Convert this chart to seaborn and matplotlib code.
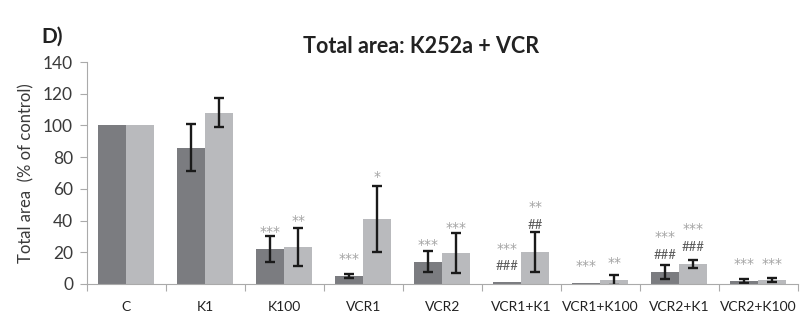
import matplotlib
matplotlib.use("Agg")
import matplotlib.pyplot as plt
import seaborn as sns
import pandas as pd
import numpy as np

categories = ["C", "K1", "K100", "VCR1", "VCR2", "VCR1+K1", "VCR1+K100", "VCR2+K1", "VCR2+K100"]
series_names = ["A", "B"]
dark_values = [100, 86, 22, 5, 14, 1, 0.5, 7.5, 2]
dark_err = [0, 15, 8, 1.5, 6.5, 0, 0, 4.5, 1.2]
light_values = [100, 108, 23, 41, 19.5, 20, 2.5, 12.5, 2.5]
light_err = [0, 9, 12, 21, 12.5, 12.5, 3, 2.5, 1.3]

# annotations: (category index, series index, text, y value, kind)
annotations = [
    (2, 0, "***", 34.5, "star"), (2, 1, "**", 41, "star"),
    (3, 0, "***", 17, "star"), (3, 1, "*", 69, "star"),
    (4, 0, "***", 26, "star"), (4, 1, "***", 37, "star"),
    (5, 0, "###", 11, "hash"), (5, 0, "***", 23.5, "star"),
    (5, 1, "##", 37, "hash"), (5, 1, "**", 50, "star"),
    (6, 0, "***", 12.5, "star"), (6, 1, "**", 14.5, "star"),
    (7, 0, "###", 18, "hash"), (7, 0, "***", 31, "star"),
    (7, 1, "###", 23, "hash"), (7, 1, "***", 36, "star"),
    (8, 0, "***", 14, "star"), (8, 1, "***", 14, "star"),
]

df = pd.DataFrame({
    "cat": categories * 2,
    "series": [series_names[0]] * len(categories) + [series_names[1]] * len(categories),
    "val": dark_values + light_values,
    "err": dark_err + light_err,
})

sns.set_style("white")
plt.rcParams["font.family"] = ["Lato", "DejaVu Sans"]

fig = plt.figure(figsize=(8.05, 3.23), dpi=100)
ax = fig.add_axes([0.108, 0.121, 0.883, 0.687])

palette = {"A": "#7b7c80", "B": "#b9babd"}
sns.barplot(data=df, x="cat", y="val", hue="series", order=categories,
            hue_order=series_names, palette=palette, width=0.71, gap=0,
            errorbar=None, legend=False, ax=ax, saturation=1, linewidth=0)

# error bars at bar centres
n = len(categories)
centers = {}
for i, p in enumerate(ax.patches[:2 * n]):
    s = i // n
    c = i % n
    centers[(c, s)] = p.get_x() + p.get_width() / 2

for s, (vals, errs) in enumerate([(dark_values, dark_err), (light_values, light_err)]):
    for c in range(n):
        if errs[c] > 0:
            ax.errorbar(centers[(c, s)], vals[c], yerr=errs[c], fmt="none",
                        ecolor="#1a1a1a", elinewidth=1.7, capsize=3.3, capthick=1.7)

for c, s, txt, y, kind in annotations:
    if kind == "star":
        ax.text(centers[(c, s)], y - 1.5, txt, ha="center", va="center",
                fontsize=10, color="#a3a3a3", family="DejaVu Sans")
    else:
        ax.text(centers[(c, s)], y, txt, ha="center", va="center",
                fontsize=9.5, color="#5a5a5a")

ax.set_ylim(0, 140)
ax.set_xlim(-0.5, n - 0.5)
ax.set_yticks(np.arange(0, 141, 20))
ax.tick_params(axis="y", labelsize=12.5, labelcolor="#3a3a3a", length=5, width=0.8,
               direction="out", left=True, color="#aaaaaa", pad=5)
ax.set_xticks(range(n))
ax.set_xticklabels(categories)
ax.set_xticks(np.arange(-0.5, n, 1), minor=True)
ax.tick_params(axis="x", which="major", length=0, labelsize=10, labelcolor="#222222", pad=12)
ax.tick_params(axis="x", which="minor", length=5, width=0.8, color="#aaaaaa",
               direction="out", bottom=True)
ax.set_xlabel("")
ax.set_ylabel("Total area  (% of control)", fontsize=12, color="#3a3a3a", labelpad=6)

for side in ["top", "right"]:
    ax.spines[side].set_visible(False)
for side in ["left", "bottom"]:
    ax.spines[side].set_color("#aaaaaa")
    ax.spines[side].set_linewidth(0.8)

fig.text(0.523, 0.855, "Total area: K252a + VCR", ha="center", va="center",
         fontsize=15.5, fontweight="bold", color="#222222")
fig.text(0.052, 0.885, "D)", ha="left", va="center", fontsize=15,
         fontweight="bold", color="#222222")

fig.savefig("out.png", dpi=100)
